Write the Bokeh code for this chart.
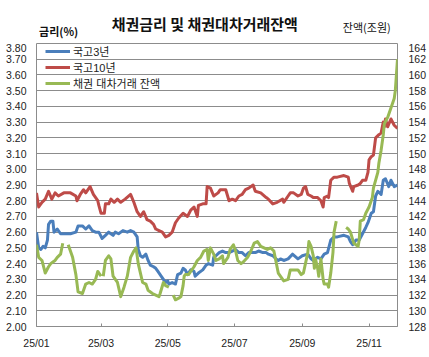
from bokeh.plotting import figure
from bokeh.layouts import column
from bokeh.models import (Range1d, LinearAxis, FixedTicker, Label, Legend, LegendItem,
                          NumeralTickFormatter)
from bokeh.embed import file_html
from bokeh.resources import INLINE

# ---- data (x = days since 2025-01-01) ----
tick_days = [0, 59, 120, 181, 243, 304]
tick_labels = ["25/01", "25/03", "25/05", "25/07", "25/09", "25/11"]

day_10y = [0, 2, 5, 8, 11, 14, 17, 20, 25, 31, 36, 37, 40, 43, 45, 49, 52, 56, 57, 59, 62, 63, 66, 68,
           71, 74, 77, 81, 86, 89, 92, 95, 98, 101, 104, 107, 109, 112, 115, 118, 121, 124, 127, 130,
           134, 138, 141, 144, 147, 148, 152, 155, 156, 159, 162, 166, 168, 173, 176, 179, 182, 185,
           188, 191, 194, 198, 200, 205, 210, 212, 216, 220, 225, 226, 230, 232, 235, 239, 242, 244,
           246, 248, 251, 253, 257, 260, 262, 263, 266, 267, 269, 272, 275, 281, 285, 286, 289, 290,
           294, 296, 298, 301, 303, 304, 306, 308, 310, 313, 315, 317, 318, 319, 321, 324, 327, 330]
ktb_10y = [2.85, 2.76, 2.79, 2.81, 2.86, 2.81, 2.85, 2.83, 2.85, 2.85, 2.83, 2.80, 2.84, 2.87, 2.85,
           2.89, 2.84, 2.80, 2.77, 2.72, 2.72, 2.78, 2.78, 2.81, 2.79, 2.81, 2.79, 2.81, 2.84, 2.79,
           2.73, 2.70, 2.73, 2.68, 2.67, 2.65, 2.62, 2.61, 2.60, 2.57, 2.58, 2.60, 2.66, 2.69, 2.72,
           2.70, 2.74, 2.76, 2.70, 2.77, 2.78, 2.78, 2.89, 2.88, 2.83, 2.85, 2.87, 2.87, 2.80, 2.81,
           2.80, 2.83, 2.84, 2.87, 2.88, 2.90, 2.86, 2.85, 2.82, 2.81, 2.78, 2.79, 2.81, 2.79, 2.83,
           2.85, 2.85, 2.83, 2.84, 2.88, 2.89, 2.84, 2.83, 2.82, 2.82, 2.80, 2.76, 2.82, 2.83, 2.82,
           2.93, 2.95, 2.95, 2.96, 2.95, 2.91, 2.86, 2.89, 2.90, 2.91, 2.93, 2.93, 2.98, 3.06, 3.08,
           3.09, 3.20, 3.22, 3.23, 3.30, 3.27, 3.32, 3.27, 3.32, 3.28, 3.26]

day_3y = [0, 2, 4, 6, 8, 10, 11, 13, 15, 16, 19, 22, 25, 31, 36, 38, 42, 45, 48, 51, 54, 57, 60, 63,
          66, 70, 72, 75, 79, 83, 86, 89, 92, 93, 95, 97, 100, 102, 104, 107, 109, 111, 113, 116, 118,
          120, 121, 124, 127, 129, 132, 134, 136, 138, 141, 144, 145, 148, 152, 155, 157, 161, 162,
          164, 167, 170, 173, 176, 179, 182, 185, 188, 191, 194, 198, 200, 203, 207, 210, 212, 216,
          219, 221, 223, 226, 230, 234, 239, 243, 248, 251, 253, 257, 260, 263, 266, 269, 272, 275,
          281, 285, 287, 289, 292, 295, 298, 301, 303, 306, 308, 310, 312, 315, 317, 319, 322, 324,
          327, 330]
ktb_3y = [2.60, 2.50, 2.49, 2.51, 2.50, 2.55, 2.65, 2.67, 2.67, 2.60, 2.62, 2.59, 2.59, 2.59, 2.60,
          2.64, 2.64, 2.62, 2.64, 2.61, 2.60, 2.60, 2.56, 2.58, 2.60, 2.58, 2.60, 2.59, 2.61, 2.60,
          2.61, 2.60, 2.57, 2.49, 2.45, 2.44, 2.46, 2.42, 2.39, 2.38, 2.37, 2.35, 2.33, 2.30, 2.28,
          2.29, 2.27, 2.28, 2.27, 2.33, 2.34, 2.37, 2.36, 2.33, 2.36, 2.35, 2.32, 2.34, 2.36, 2.39,
          2.40, 2.39, 2.44, 2.45, 2.47, 2.48, 2.47, 2.47, 2.48, 2.49, 2.47, 2.47, 2.45, 2.47, 2.47,
          2.47, 2.48, 2.47, 2.47, 2.46, 2.45, 2.43, 2.42, 2.43, 2.42, 2.43, 2.46, 2.43, 2.45, 2.46,
          2.43, 2.42, 2.44, 2.43, 2.46, 2.47, 2.55, 2.57, 2.57, 2.58, 2.57, 2.54, 2.52, 2.55, 2.55,
          2.59, 2.63, 2.66, 2.72, 2.73, 2.83, 2.86, 2.84, 2.93, 2.94, 2.89, 2.93, 2.89, 2.90]

nan = float("nan")
day_bal = [0, 2, 5, 8, 11, 13, 15, 17, 19, 22, 24, 26,
           29, 33, 36, 38, 42, 45, 48, 51, 54, 56, 59, 60,
           61, 63, 66, 68, 70, 74, 77, 80, 83, 86, 89, 91, 93, 95, 97, 100, 102, 106, 109, 112, 113,
           116, 118, 121, 123,
           125, 127, 130, 132, 134, 135, 136, 139, 141, 144, 147, 150, 153, 156, 157, 159, 162, 164,
           167, 170, 171, 175, 177, 180, 182, 184, 187, 189, 193, 196, 199, 202, 205, 208, 211, 214,
           217, 219, 221, 225, 226, 230, 232, 235, 239, 242, 244, 248, 249, 251, 253, 254, 255, 257,
           258, 260, 262, 263, 266, 267, 269, 271, 272, 274, 278,
           283, 285, 287, 290, 294, 295, 296, 299, 301, 304, 307, 308, 312, 313, 315, 317, 318, 321,
           324, 327, 328, 330]
loan_balance = [138.4, 136.8, 136.4, 134.8, 135.6, 136.0, 136.2, 136.4, 136.8, 137.2, 138.6, nan,
                138.4, 136.8, 134.6, 132.4, 132.2, 133.4, 133.6, 133.4, 134.0, 135.0, 134.4, nan,
                134.4, 136.4, 137.0, 136.6, 134.4, 133.6, 131.8, 133.0, 134.4, 136.8, 137.6, 138.0,
                136.0, 134.8, 133.6, 133.4, 132.6, 132.2, 132.0, 131.8, 132.2, 133.6, 133.2, 133.0, nan,
                132.0, 131.4, 131.6, 131.8, 133.2, 134.4, 134.6, 134.6, 135.0, 135.6, 136.4, 136.8,
                137.6, 137.8, 136.4, 138.0, 137.2, 136.4, 136.6, 137.0, 136.0, 136.8, 137.8, 138.4,
                137.6, 136.4, 136.0, 136.2, 136.8, 137.6, 138.6, 138.8, 138.2, 138.0, 137.8, 138.0,
                137.6, 136.2, 134.8, 134.0, 133.8, 134.0, 135.2, 135.2, 135.2, 134.6, 134.8, 137.4,
                138.8, 138.2, 137.0, 135.4, 136.6, 135.4, 134.4, 136.6, 134.0, 133.4, 133.4, 133.0,
                134.8, 137.4, 140.0, 141.4, nan,
                140.6, 140.4, 140.0, 138.6, 138.2, 139.0, 141.4, 141.6, 142.4, 143.2, 144.4, 145.6,
                147.6, 148.8, 150.4, 152.4, 153.8, 154.6, 155.8, 157.0, 158.0, 162.0]

series_names = ["국고3년", "국고10년", "채권 대차거래 잔액"]
title_text = "채권금리 및 채권대차거래잔액"
left_unit = "금리(%)"
right_unit = "잔액(조원)"
colors = ["#4A7EBB", "#BE4B48", "#98B954"]

KR = "Noto Sans CJK KR"
MIX = "'Liberation Sans', 'Noto Sans CJK KR'"
NUM = "Liberation Sans"
GRID = "#8C8C8C"
W = 429
TOP_H = 43

# ---- heading strip (title and unit captions) ----
head = figure(width=W, height=TOP_H, output_backend="svg", toolbar_location=None,
              x_range=Range1d(0, W), y_range=Range1d(TOP_H, 0),
              x_axis_type=None, y_axis_type=None,
              min_border=0, min_border_left=0, min_border_right=0,
              min_border_top=0, min_border_bottom=0)
head.outline_line_color = None
head.grid.visible = False
head.add_layout(Label(x=200, y=23, text=title_text, text_font=KR, text_font_size="15px",
                      text_font_style="bold", text_align="center", text_baseline="middle",
                      text_color="#111111"))
head.add_layout(Label(x=3, y=30, text=left_unit, text_font=KR, text_font_size="11px",
                      text_font_style="bold", text_align="left", text_baseline="middle",
                      text_color="#111111"))
head.add_layout(Label(x=364, y=26, text=right_unit, text_font=KR, text_font_size="11px",
                      text_align="left", text_baseline="middle", text_color="#111111"))

# ---- main chart ----
p = figure(width=W, height=357 - TOP_H, output_backend="svg", toolbar_location=None,
           x_range=Range1d(0, 330), y_range=Range1d(2.0, 3.8),
           min_border_left=36, min_border_right=32, min_border_top=0, min_border_bottom=31)
p.extra_y_ranges = {"bal": Range1d(128, 164)}

p.outline_line_color = GRID
p.outline_line_width = 1
p.background_fill_color = "white"
p.border_fill_color = "white"

xa = p.xaxis[0]
xa.ticker = FixedTicker(ticks=tick_days)
xa.major_label_overrides = {d: l for d, l in zip(tick_days, tick_labels)}
xa.major_tick_in = 3
xa.major_tick_out = 0
xa.minor_tick_line_color = None
xa.axis_line_color = GRID
xa.major_tick_line_color = GRID
xa.major_label_text_font = NUM
xa.major_label_text_font_size = "10.5px"
xa.major_label_text_color = "#222222"
xa.major_label_standoff = 10

yticks = [round(2.0 + 0.1 * i, 2) for i in range(19)]
ya = p.yaxis[0]
ya.ticker = FixedTicker(ticks=yticks)
ya.formatter = NumeralTickFormatter(format="0.00")
ya.major_tick_in = 0
ya.major_tick_out = 0
ya.minor_tick_line_color = None
ya.axis_line_color = None
ya.major_label_text_font = NUM
ya.major_label_text_font_size = "10.5px"
ya.major_label_text_color = "#222222"
ya.major_label_standoff = 10

ra = LinearAxis(y_range_name="bal", ticker=FixedTicker(ticks=list(range(128, 165, 2))))
ra.major_tick_in = 0
ra.major_tick_out = 0
ra.minor_tick_line_color = None
ra.axis_line_color = None
ra.major_label_text_font = NUM
ra.major_label_text_font_size = "10.5px"
ra.major_label_text_color = "#222222"
ra.major_label_standoff = 11
p.add_layout(ra, "right")

p.xgrid.visible = False
p.ygrid.ticker = FixedTicker(ticks=yticks)
p.ygrid.grid_line_color = GRID
p.ygrid.grid_line_width = 1

r3 = p.line(day_3y, ktb_3y, line_color=colors[0], line_width=3, line_join="round")
r10 = p.line(day_10y, ktb_10y, line_color=colors[1], line_width=3, line_join="round")
rb = p.line(day_bal, loan_balance, line_color=colors[2], line_width=3, line_join="round",
            y_range_name="bal")

legend = Legend(items=[LegendItem(label=series_names[0], renderers=[r3]),
                       LegendItem(label=series_names[1], renderers=[r10]),
                       LegendItem(label=series_names[2], renderers=[rb])],
                location=(9, 235), border_line_color=None, background_fill_alpha=0,
                padding=2, margin=0, spacing=0, glyph_width=25, glyph_height=12,
                label_height=12, label_standoff=3, label_text_font=MIX,
                label_text_font_size="11px", label_text_color="#222222")
p.add_layout(legend, "center")

layout = column(head, p, spacing=0)
open("out.html", "w").write(file_html(layout, INLINE))
